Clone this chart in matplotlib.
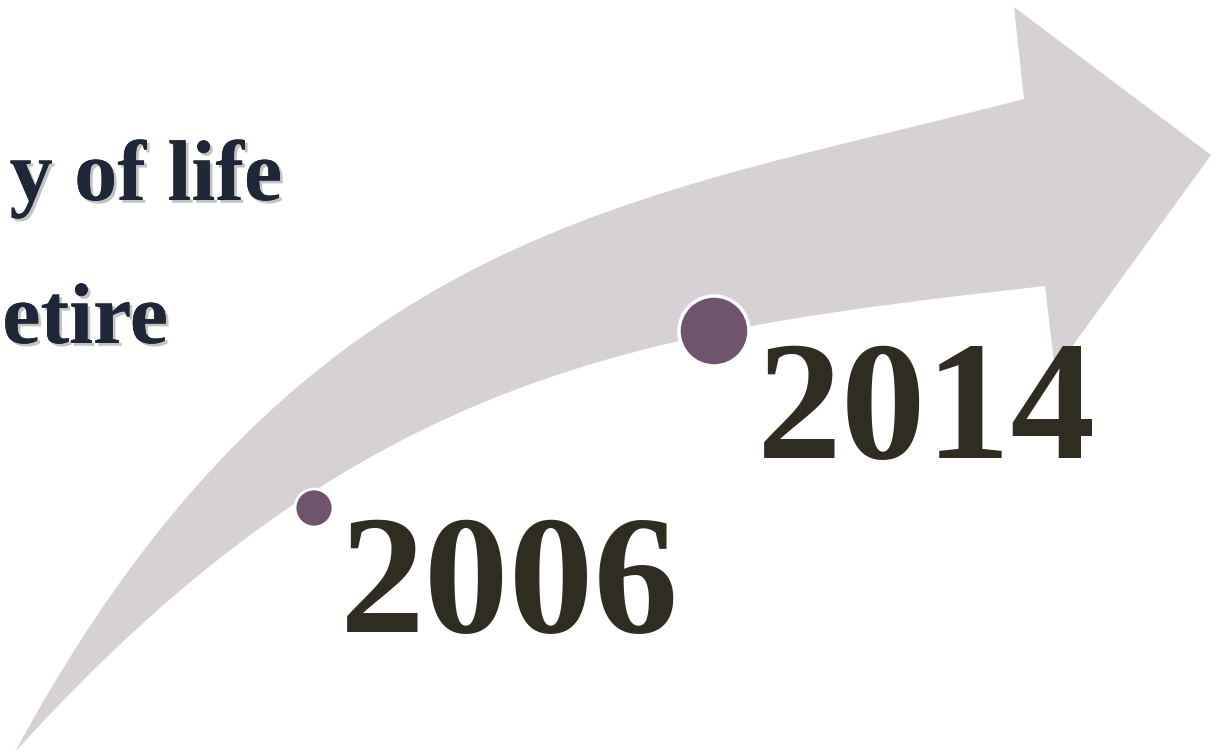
import matplotlib
matplotlib.use('Agg')
import matplotlib.pyplot as plt
from matplotlib.patches import PathPatch, Circle
from matplotlib.path import Path
import matplotlib.patheffects as pe

# arrow outline in pixel coordinates (origin top-left), cubic bezier edges
tail = (15, 752)
upper_ctrl = [(300, 224), (637, 200), (1024, 99)]
head = [(1014, 7), (1211, 155), (1055, 370), (1045, 286)]
lower_ctrl = [(647, 331), (364, 366), (15, 752)]

years = ['2006', '2014']
dot_x = [314, 714]
dot_y = [508, 331]
dot_r = [19, 35]
label_x = [340, 757]
label_y = [632, 458]

# visible part of the cut-off side captions
side_texts = ['y of life', 'etire']
side_x = [282, 168]
side_y = [200, 343]

fig = plt.figure(figsize=(12.21, 7.54), dpi=100)
ax = fig.add_axes([0, 0, 1, 1])
ax.set_xlim(0, 1221)
ax.set_ylim(754, 0)
ax.axis('off')

verts = [tail] + upper_ctrl + head + lower_ctrl + [tail]
codes = ([Path.MOVETO] + [Path.CURVE4] * 3 + [Path.LINETO] * 4
         + [Path.CURVE4] * 3 + [Path.CLOSEPOLY])
ax.add_patch(PathPatch(Path(verts, codes), facecolor='#d5d1d5', edgecolor='none'))

for x, y, r in zip(dot_x, dot_y, dot_r):
    ax.add_patch(Circle((x, y), r, facecolor='#6e546c', edgecolor='white',
                        linewidth=2.5 if r > 25 else 2, zorder=3))

for t, x, y in zip(years, label_x, label_y):
    ax.text(x, y, t, ha='left', va='baseline', fontsize=122,
            family='Liberation Serif', fontweight='bold', color='#2f2c22', zorder=4)

shadow = [pe.withSimplePatchShadow(offset=(2, -2), shadow_rgbFace='#9a9a9a', alpha=0.6),
          pe.Normal()]
for t, x, y in zip(side_texts, side_x, side_y):
    ax.text(x, y, t, ha='right', va='baseline', fontsize=62,
            family='Liberation Serif', fontweight='bold', color='#1f2638',
            path_effects=shadow, zorder=4)

fig.savefig('out.png', dpi=100)
